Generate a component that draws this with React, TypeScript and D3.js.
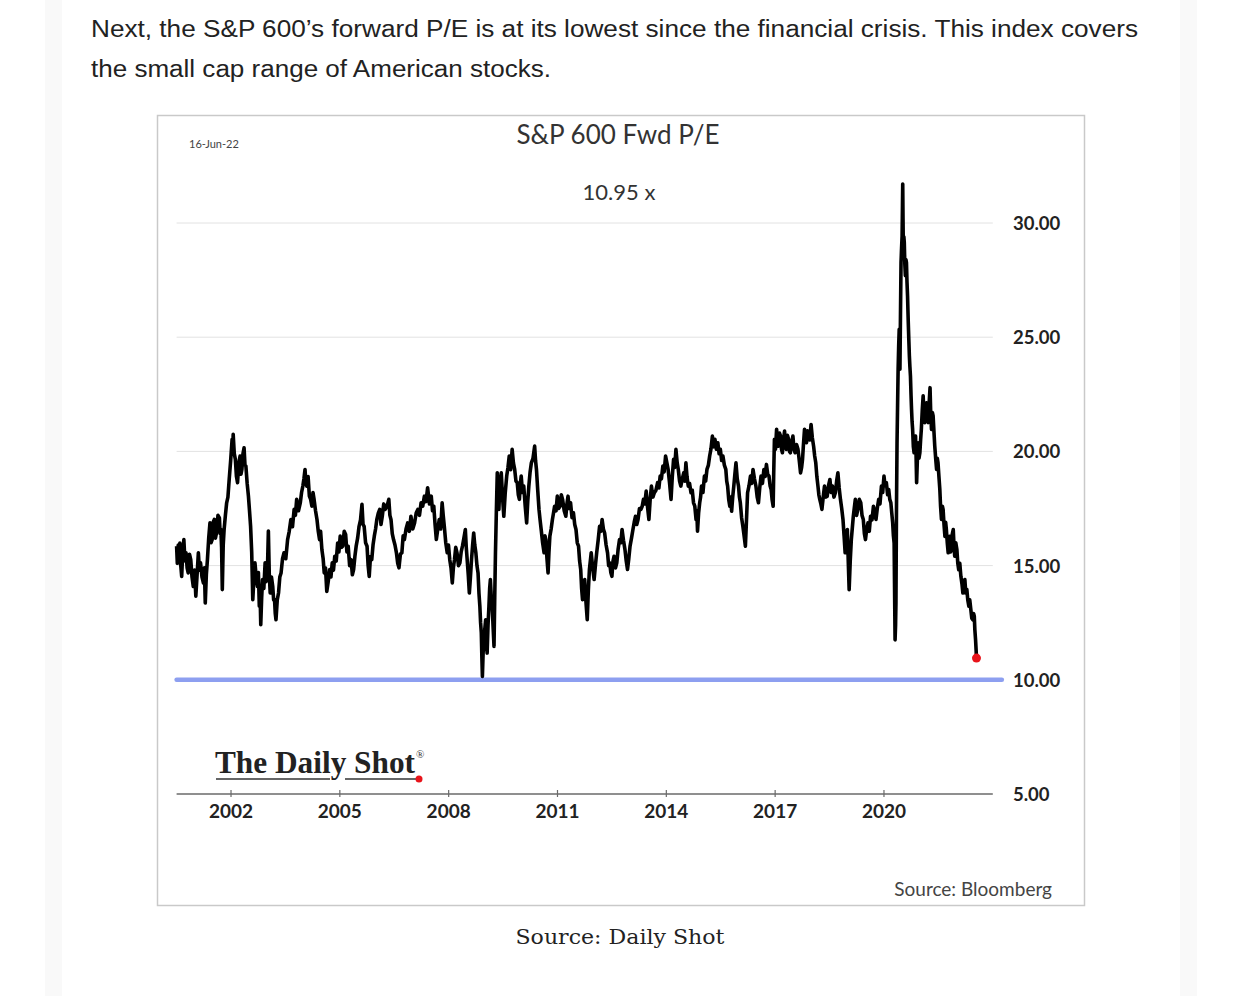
import React from 'react'
import * as d3 from 'd3'

// S&P 600 forward P/E as [decimal year, P/E]
const pe2000to2004: [number, number][] = [
    [2000.5, 15.85], [2000.52, 15.1], [2000.545, 15.9], [2000.57, 15.3], [2000.59, 15.99], [2000.615, 15.0],
    [2000.64, 14.53], [2000.67, 15.6], [2000.7, 16.14], [2000.73, 15.2], [2000.76, 15.56], [2000.79, 14.9],
    [2000.82, 14.68], [2000.855, 15.5], [2000.89, 15.26], [2000.925, 14.5], [2000.96, 14.09], [2000.995, 14.8],
    [2001.03, 13.66], [2001.065, 14.6], [2001.1, 15.56], [2001.13, 14.8], [2001.16, 15.12], [2001.2, 14.5],
    [2001.24, 14.24], [2001.265, 14.9], [2001.29, 13.36], [2001.32, 14.6], [2001.35, 15.26], [2001.385, 16.2],
    [2001.42, 16.87], [2001.45, 16.0], [2001.48, 16.14], [2001.51, 16.9], [2001.54, 17.02], [2001.57, 16.2],
    [2001.6, 16.43], [2001.64, 17.2], [2001.68, 17.09], [2001.7, 16.4], [2001.72, 16.58], [2001.74, 15.8],
    [2001.76, 13.95], [2001.785, 15.9], [2001.81, 16.58], [2001.845, 17.2], [2001.88, 17.75], [2001.915, 18.0],
    [2001.95, 18.77], [2001.99, 19.6], [2002.03, 20.53], [2002.045, 19.9], [2002.06, 20.75], [2002.09, 19.9],
    [2002.12, 19.65], [2002.15, 18.9], [2002.18, 18.63], [2002.215, 19.5], [2002.25, 19.8], [2002.275, 19.0],
    [2002.3, 19.21], [2002.33, 19.9], [2002.36, 20.16], [2002.385, 19.4], [2002.41, 19.36], [2002.445, 18.6],
    [2002.48, 18.04], [2002.51, 17.4], [2002.54, 16.72], [2002.57, 15.6], [2002.6, 13.51], [2002.63, 14.4],
    [2002.66, 15.12], [2002.695, 14.5], [2002.73, 14.09], [2002.755, 14.7], [2002.78, 13.22], [2002.8, 13.9],
    [2002.82, 12.41], [2002.845, 13.6], [2002.87, 14.39], [2002.905, 14.0], [2002.94, 15.12], [2002.965, 14.3],
    [2002.99, 14.53], [2003.01, 15.2], [2003.03, 16.51], [2003.055, 14.6], [2003.08, 13.8], [2003.115, 14.5],
    [2003.15, 14.09], [2003.175, 13.5], [2003.2, 13.51], [2003.22, 12.9], [2003.24, 12.63], [2003.275, 13.5],
    [2003.31, 13.8], [2003.345, 14.5], [2003.38, 14.68], [2003.42, 15.3], [2003.46, 15.56], [2003.51, 15.3],
    [2003.56, 16.14], [2003.605, 16.5], [2003.65, 17.02], [2003.695, 16.7], [2003.74, 17.46], [2003.775, 17.2],
    [2003.81, 17.9], [2003.86, 17.4], [2003.91, 17.75], [2003.945, 18.2], [2003.98, 18.48], [2004.01, 18.8],
    [2004.04, 19.21], [2004.065, 18.6], [2004.09, 18.48], [2004.125, 18.9], [2004.16, 18.04], [2004.195, 17.9],
    [2004.23, 17.6], [2004.26, 18.2], [2004.29, 17.9], [2004.33, 17.4], [2004.37, 17.02], [2004.405, 16.5],
    [2004.44, 16.14], [2004.47, 16.5], [2004.505, 15.7], [2004.54, 15.3], [2004.57, 14.68], [2004.605, 14.9],
    [2004.64, 13.87], [2004.68, 14.3], [2004.72, 14.83], [2004.755, 14.5], [2004.79, 15.12], [2004.825, 14.8],
    [2004.86, 15.41], [2004.9, 15.2], [2004.94, 15.99], [2004.975, 15.6],
]

const pe2005to2009: [number, number][] = [
    [2005.01, 16.29], [2005.045, 15.8], [2005.08, 15.85], [2005.12, 16.5], [2005.16, 16.36], [2005.195, 15.6],
    [2005.23, 15.85], [2005.27, 15.0], [2005.31, 15.26], [2005.345, 14.6], [2005.38, 14.83], [2005.415, 15.4],
    [2005.45, 15.85], [2005.49, 16.2], [2005.53, 16.72], [2005.57, 17.0], [2005.61, 17.68], [2005.64, 16.8],
    [2005.67, 16.72], [2005.71, 16.0], [2005.75, 15.85], [2005.78, 15.0], [2005.81, 14.53], [2005.845, 15.4],
    [2005.88, 15.26], [2005.915, 15.9], [2005.95, 16.29], [2005.985, 16.6], [2006.02, 17.02], [2006.06, 17.3],
    [2006.1, 17.46], [2006.135, 16.8], [2006.17, 17.16], [2006.21, 17.7], [2006.25, 17.46], [2006.3, 17.6],
    [2006.35, 17.9], [2006.38, 17.2], [2006.41, 17.02], [2006.445, 16.4], [2006.48, 16.14], [2006.52, 15.9],
    [2006.56, 15.56], [2006.595, 15.1], [2006.63, 14.9], [2006.67, 15.5], [2006.71, 15.56], [2006.745, 16.3],
    [2006.78, 16.14], [2006.825, 16.6], [2006.87, 16.87], [2006.915, 16.5], [2006.96, 17.16], [2007.01, 16.6],
    [2007.06, 16.87], [2007.105, 17.3], [2007.15, 17.46], [2007.195, 17.2], [2007.24, 17.75], [2007.285, 17.6],
    [2007.33, 18.04], [2007.375, 17.8], [2007.42, 18.41], [2007.47, 17.7], [2007.52, 18.04], [2007.555, 17.4],
    [2007.59, 17.6], [2007.625, 16.8], [2007.66, 16.14], [2007.7, 16.6], [2007.74, 17.02], [2007.78, 16.6],
    [2007.82, 17.75], [2007.85, 17.2], [2007.88, 16.72], [2007.92, 16.0], [2007.96, 15.56], [2007.995, 15.9],
    [2008.03, 15.26], [2008.065, 14.9], [2008.1, 14.24], [2008.13, 14.9], [2008.16, 15.26], [2008.195, 15.8],
    [2008.23, 15.56], [2008.27, 15.0], [2008.31, 15.12], [2008.345, 15.6], [2008.38, 15.85], [2008.42, 16.2],
    [2008.46, 16.58], [2008.485, 15.8], [2008.51, 15.26], [2008.54, 14.6], [2008.57, 13.8], [2008.6, 14.5],
    [2008.63, 15.26], [2008.66, 15.9], [2008.69, 16.43], [2008.72, 15.9], [2008.75, 15.56], [2008.78, 15.0],
    [2008.81, 14.68], [2008.835, 13.8], [2008.86, 13.22], [2008.88, 12.5], [2008.9, 12.05], [2008.915, 11.0],
    [2008.93, 10.15], [2008.95, 11.2], [2008.97, 11.46], [2008.995, 12.2], [2009.02, 12.63], [2009.04, 11.8],
    [2009.06, 11.17], [2009.085, 12.4], [2009.11, 13.22], [2009.13, 14.0], [2009.15, 14.39], [2009.175, 13.6],
    [2009.2, 13.22], [2009.225, 12.3], [2009.25, 11.46], [2009.27, 13.6], [2009.29, 15.56], [2009.315, 17.4],
    [2009.34, 19.06], [2009.365, 18.0], [2009.385, 17.46], [2009.41, 18.5],
]

const pe2009to2014: [number, number][] = [
    [2009.45, 19.06], [2009.485, 18.0], [2009.52, 17.16], [2009.56, 18.2], [2009.6, 18.92], [2009.635, 19.3],
    [2009.67, 19.8], [2009.71, 19.2], [2009.75, 20.09], [2009.785, 19.5], [2009.82, 19.21], [2009.855, 18.7],
    [2009.89, 18.63], [2009.92, 18.1], [2009.95, 17.9], [2009.975, 18.6], [2010.0, 18.92], [2010.035, 18.2],
    [2010.07, 18.48], [2010.11, 17.6], [2010.15, 16.87], [2010.18, 17.8], [2010.21, 18.48], [2010.245, 19.1],
    [2010.28, 19.5], [2010.325, 19.7], [2010.37, 20.23], [2010.395, 19.6], [2010.42, 19.21], [2010.455, 18.3],
    [2010.49, 17.46], [2010.52, 17.0], [2010.55, 16.58], [2010.59, 16.0], [2010.63, 15.56], [2010.655, 16.3],
    [2010.68, 16.14], [2010.71, 15.3], [2010.74, 14.68], [2010.765, 15.6], [2010.79, 16.29], [2010.825, 16.6],
    [2010.86, 17.02], [2010.89, 17.3], [2010.92, 17.6], [2010.96, 17.4], [2010.995, 18.04], [2011.03, 17.5],
    [2011.07, 17.6], [2011.105, 18.1], [2011.14, 17.9], [2011.185, 17.4], [2011.23, 17.16], [2011.26, 17.7],
    [2011.29, 18.04], [2011.325, 17.5], [2011.36, 17.75], [2011.4, 17.1], [2011.44, 17.31], [2011.475, 16.8],
    [2011.51, 16.58], [2011.545, 16.0], [2011.58, 15.85], [2011.61, 15.2], [2011.64, 14.83], [2011.665, 14.0],
    [2011.69, 13.51], [2011.72, 14.1], [2011.75, 14.39], [2011.785, 13.4], [2011.82, 12.63], [2011.85, 13.9],
    [2011.88, 14.83], [2011.905, 15.2], [2011.93, 15.56], [2011.97, 14.9], [2012.01, 14.39], [2012.045, 15.0],
    [2012.08, 15.56], [2012.12, 16.1], [2012.16, 16.72], [2012.195, 16.5], [2012.23, 17.02], [2012.265, 16.6],
    [2012.3, 16.43], [2012.34, 15.9], [2012.38, 15.56], [2012.41, 15.0], [2012.44, 15.12], [2012.47, 14.7],
    [2012.5, 14.53], [2012.53, 15.2], [2012.56, 15.41], [2012.6, 14.9], [2012.635, 15.12], [2012.67, 15.7],
    [2012.71, 16.14], [2012.745, 16.0], [2012.78, 16.58], [2012.82, 16.1], [2012.86, 15.7], [2012.895, 15.2],
    [2012.93, 14.83], [2012.965, 15.3], [2013.0, 15.85], [2013.04, 16.2], [2013.08, 16.58], [2013.115, 16.9],
    [2013.15, 17.16], [2013.185, 16.8], [2013.22, 17.02], [2013.26, 17.5], [2013.3, 17.46], [2013.335, 17.6],
    [2013.37, 17.9], [2013.405, 17.7], [2013.445, 18.26], [2013.48, 17.6], [2013.52, 17.02], [2013.555, 17.9],
    [2013.59, 18.48], [2013.63, 18.0], [2013.67, 18.19], [2013.715, 18.3], [2013.76, 18.63], [2013.795, 18.4],
    [2013.83, 18.92], [2013.865, 18.8], [2013.905, 19.36], [2013.94, 19.1], [2013.98, 19.8],
]

const pe2014to2019: [number, number][] = [
    [2014.05, 19.21], [2014.09, 18.6], [2014.13, 17.9], [2014.165, 18.9], [2014.2, 19.65], [2014.23, 19.3],
    [2014.265, 20.09], [2014.3, 19.5], [2014.33, 19.21], [2014.365, 18.7], [2014.4, 18.48], [2014.44, 18.8],
    [2014.48, 19.06], [2014.51, 18.7], [2014.54, 19.5], [2014.57, 18.9], [2014.605, 18.48], [2014.64, 18.6],
    [2014.68, 18.19], [2014.715, 18.3], [2014.75, 17.75], [2014.785, 17.6], [2014.82, 17.02], [2014.84, 17.4],
    [2014.86, 16.51], [2014.89, 17.3], [2014.92, 17.75], [2014.945, 18.0], [2014.97, 18.48], [2015.01, 18.2],
    [2015.05, 18.92], [2015.085, 18.7], [2015.12, 19.21], [2015.16, 19.4], [2015.195, 19.8], [2015.23, 20.1],
    [2015.27, 20.67], [2015.305, 20.2], [2015.34, 20.53], [2015.38, 20.1], [2015.42, 20.38], [2015.455, 19.9],
    [2015.49, 20.09], [2015.525, 19.6], [2015.56, 19.8], [2015.6, 19.4], [2015.64, 19.21], [2015.665, 18.7],
    [2015.69, 18.48], [2015.72, 17.9], [2015.75, 17.6], [2015.775, 18.0], [2015.8, 17.38], [2015.83, 18.0],
    [2015.86, 18.48], [2015.89, 19.0], [2015.92, 19.5], [2015.955, 18.8], [2015.99, 18.48], [2016.015, 18.0],
    [2016.04, 17.75], [2016.075, 17.1], [2016.11, 16.72], [2016.145, 16.3], [2016.18, 15.85], [2016.21, 17.0],
    [2016.24, 18.19], [2016.28, 18.5], [2016.32, 18.92], [2016.355, 18.6], [2016.39, 19.21], [2016.43, 18.8],
    [2016.47, 18.48], [2016.505, 18.0], [2016.54, 17.75], [2016.575, 18.4], [2016.61, 18.92], [2016.65, 18.6],
    [2016.69, 19.21], [2016.725, 18.9], [2016.76, 19.43], [2016.795, 19.0], [2016.83, 18.92], [2016.86, 18.5],
    [2016.89, 18.33], [2016.915, 17.9], [2016.945, 17.6], [2016.96, 19.0], [2016.98, 20.53], [2017.01, 20.1],
    [2017.04, 20.97], [2017.065, 20.4], [2017.09, 20.23], [2017.12, 20.8], [2017.15, 20.67], [2017.175, 20.1],
    [2017.2, 19.94], [2017.23, 20.5], [2017.26, 20.89], [2017.285, 20.2], [2017.31, 20.09], [2017.34, 20.7],
    [2017.37, 20.53], [2017.395, 20.0], [2017.42, 19.94], [2017.455, 20.4], [2017.49, 20.67], [2017.52, 20.1],
    [2017.55, 19.94], [2017.59, 20.3], [2017.63, 20.09], [2017.665, 19.6], [2017.7, 19.06], [2017.73, 19.3],
    [2017.755, 19.65], [2017.78, 20.3], [2017.81, 20.97], [2017.84, 20.5], [2017.865, 20.38], [2017.89, 20.9],
    [2017.92, 20.82], [2017.955, 20.5], [2017.99, 21.18], [2018.025, 20.6], [2018.06, 20.23], [2018.09, 19.8],
    [2018.12, 19.5], [2018.15, 18.9], [2018.18, 18.48], [2018.205, 18.1], [2018.23, 17.9], [2018.26, 17.7],
    [2018.29, 17.46], [2018.325, 18.0], [2018.36, 18.48], [2018.4, 18.0], [2018.435, 18.04], [2018.47, 18.5],
    [2018.51, 18.77], [2018.545, 18.2], [2018.58, 18.48], [2018.62, 18.0], [2018.66, 18.19], [2018.695, 18.7],
    [2018.73, 19.06], [2018.765, 18.4], [2018.8, 17.9], [2018.835, 17.5], [2018.87, 17.02], [2018.9, 16.3],
    [2018.93, 15.56], [2018.96, 16.2], [2018.99, 16.58], [2019.015, 15.2], [2019.04, 13.95], [2019.07, 15.2],
    [2019.1, 16.14], [2019.13, 16.7], [2019.155, 17.16], [2019.18, 17.5], [2019.21, 17.9], [2019.245, 17.2],
    [2019.28, 17.46], [2019.32, 17.9], [2019.36, 17.75], [2019.395, 17.2], [2019.43, 17.02], [2019.46, 16.4],
    [2019.49, 16.14], [2019.525, 16.6], [2019.56, 16.87], [2019.595, 16.5], [2019.63, 17.16], [2019.67, 17.0],
    [2019.71, 17.6], [2019.745, 17.3], [2019.78, 17.02], [2019.815, 17.5], [2019.855, 17.9], [2019.89, 17.7],
    [2019.93, 18.48], [2019.965, 18.2], [2020.0, 18.92],
]

const pe2020to2022: [number, number][] = [
    [2020.03, 18.5], [2020.066, 18.63], [2020.1, 18.1], [2020.13, 18.33], [2020.16, 17.9], [2020.19, 17.75],
    [2020.215, 17.3], [2020.24, 16.87], [2020.26, 16.3], [2020.28, 15.99], [2020.295, 13.5], [2020.306, 11.75],
    [2020.32, 12.4], [2020.33, 13.36], [2020.345, 17.5], [2020.36, 20.38], [2020.375, 22.0], [2020.39, 23.6],
    [2020.405, 24.6], [2020.42, 25.35], [2020.43, 24.4], [2020.44, 23.6], [2020.455, 26.0], [2020.47, 28.27],
    [2020.485, 28.9], [2020.5, 29.44], [2020.51, 30.8], [2020.517, 31.71], [2020.525, 30.2], [2020.535, 28.71],
    [2020.548, 29.4], [2020.56, 29.15], [2020.575, 28.2], [2020.59, 27.69], [2020.605, 28.4], [2020.62, 28.27],
    [2020.635, 27.4], [2020.65, 26.81], [2020.66, 26.2], [2020.67, 25.64], [2020.685, 24.9], [2020.7, 24.18],
    [2020.715, 23.7], [2020.73, 23.3], [2020.745, 22.5], [2020.76, 21.84], [2020.775, 21.3], [2020.79, 20.96],
    [2020.81, 20.2], [2020.83, 19.94], [2020.85, 20.5], [2020.87, 20.67], [2020.885, 19.8], [2020.9, 18.63],
    [2020.92, 19.6], [2020.94, 20.38], [2020.965, 19.7], [2020.99, 19.94], [2021.01, 20.5], [2021.03, 20.96],
    [2021.055, 21.8], [2021.08, 22.43], [2021.1, 21.7], [2021.125, 21.26], [2021.15, 21.9], [2021.17, 22.13],
    [2021.195, 21.4], [2021.22, 21.26], [2021.245, 22.1], [2021.27, 22.79], [2021.29, 21.6], [2021.31, 20.96],
    [2021.335, 21.7], [2021.355, 21.55], [2021.38, 20.8], [2021.4, 20.23], [2021.425, 19.7], [2021.45, 19.21],
    [2021.47, 19.7], [2021.49, 19.5], [2021.515, 18.9], [2021.54, 18.33], [2021.56, 17.6], [2021.585, 17.02],
    [2021.61, 17.6], [2021.63, 17.46], [2021.655, 16.8], [2021.68, 16.28], [2021.7, 16.9], [2021.72, 16.58],
    [2021.745, 16.0], [2021.77, 15.56], [2021.79, 16.1], [2021.815, 16.28], [2021.84, 15.6], [2021.86, 15.85],
    [2021.885, 16.4], [2021.91, 16.58], [2021.93, 15.9], [2021.95, 15.41], [2021.98, 16.0], [2022.01, 15.7],
    [2022.035, 15.1], [2022.06, 14.82], [2022.09, 15.1], [2022.12, 14.53], [2022.15, 14.2], [2022.175, 13.8],
    [2022.2, 14.2], [2022.23, 14.39], [2022.255, 13.8], [2022.285, 13.95], [2022.31, 13.5], [2022.34, 13.22],
    [2022.365, 13.5], [2022.395, 13.07], [2022.42, 12.7], [2022.45, 12.63], [2022.47, 12.9], [2022.49, 12.78],
    [2022.505, 12.2], [2022.525, 11.75], [2022.54, 11.3], [2022.55, 10.95],
]

const peSeries = [...pe2000to2004, ...pe2005to2009, ...pe2009to2014, ...pe2014to2019, ...pe2020to2022]

const yTickValues = [5, 10, 15, 20, 25, 30]
const gridValues = [15, 20, 25, 30]
const xTickYears = [2002, 2005, 2008, 2011, 2014, 2017, 2020]
const floorValue = 10
const floorEndYear = 2023.25
const lastValue = 10.95
const lastYear = 2022.55

const introLines = [
    'Next, the S\u0026P 600\u2019s forward P/E is at its lowest since the financial crisis. This index covers',
    'the small cap range of American stocks.',
]

export default function App() {
    const x = d3.scaleLinear().domain([2000.5, 2023]).range([176.6, 992.8])
    const y = d3.scaleLinear().domain([5, 30]).range([794, 223])

    const line = d3
        .line<[number, number]>()
        .x((d) => x(d[0]))
        .y((d) => y(d[1]))

    const [x0, x1] = x.range()
    const axisFont = 'Lato, "Open Sans", sans-serif'

    return (
        <div style={{ position: 'absolute', left: 0, top: 0 }}>
            <svg width={1242} height={996} style={{ display: 'block' }}>
                <rect x={0} y={0} width={1242} height={996} fill="#fff" />
                {/* faint page column edges */}
                <rect x={45} y={0} width={17} height={996} fill="#f9f9f9" />
                <rect x={1180} y={0} width={17} height={996} fill="#f9f9f9" />

                {introLines.map((t, i) => (
                    <text
                        key={i}
                        x={91}
                        y={37 + i * 40}
                        fontFamily='"Liberation Sans", Arial, sans-serif'
                        fontSize={23}
                        fill="#222"
                        textLength={i === 0 ? 1047 : 460}
                        lengthAdjust="spacingAndGlyphs"
                    >
                        {t}
                    </text>
                ))}

                {/* chart frame */}
                <rect x={157.5} y={115.5} width={927} height={790} fill="#fff" stroke="#c9c9c9" strokeWidth={1.5} />

                <text x={189} y={148} fontFamily={axisFont} fontSize={11} fill="#444">
                    16-Jun-22
                </text>
                <text x={618} y={144} textAnchor="middle" fontFamily={axisFont} fontSize={26} fill="#333">
                    S&amp;P 600 Fwd P/E
                </text>
                <text x={619} y={200} textAnchor="middle" fontFamily={axisFont} fontSize={22} fill="#333">
                    10.95 x
                </text>

                {/* grid */}
                {gridValues.map((v) => (
                    <line key={v} x1={x0} x2={x1} y1={y(v)} y2={y(v)} stroke="#e2e2e2" strokeWidth={1} />
                ))}

                {/* y labels */}
                {yTickValues.map((v) => (
                    <text
                        key={v}
                        x={1013}
                        y={y(v) + 7}
                        fontFamily={axisFont}
                        fontWeight="bold"
                        fontSize={18.5}
                        fill="#222"
                    >
                        {v.toFixed(2)}
                    </text>
                ))}

                {/* x axis */}
                <line x1={x0} x2={x1} y1={y(5)} y2={y(5)} stroke="#6a6a6a" strokeWidth={1.5} />
                {xTickYears.map((yr) => (
                    <g key={yr}>
                        <line x1={x(yr)} x2={x(yr)} y1={y(5) - 4} y2={y(5) + 3} stroke="#6a6a6a" strokeWidth={1.2} />
                        <text
                            x={x(yr)}
                            y={y(5) + 24}
                            textAnchor="middle"
                            fontFamily={axisFont}
                            fontWeight="bold"
                            fontSize={19}
                            fill="#222"
                        >
                            {yr}
                        </text>
                    </g>
                ))}

                {/* floor line */}
                <line
                    x1={x(2000.5)}
                    x2={x(floorEndYear)}
                    y1={y(floorValue)}
                    y2={y(floorValue)}
                    stroke="#8d9ff0"
                    strokeWidth={4.5}
                    strokeLinecap="round"
                />

                {/* series */}
                <path
                    d={line(peSeries) ?? ''}
                    fill="none"
                    stroke="#000"
                    strokeWidth={3.6}
                    strokeLinejoin="round"
                />
                <circle cx={x(lastYear)} cy={y(lastValue)} r={4.5} fill="#e8141b" />

                {/* logo */}
                <text
                    x={215}
                    y={773}
                    fontFamily='"Liberation Serif", "Times New Roman", serif'
                    fontSize={31}
                    fontWeight="bold"
                    fill="#222"
                    textLength={200}
                    lengthAdjust="spacingAndGlyphs"
                >
                    The Daily Shot
                </text>
                <text x={416} y={758} fontFamily='"Liberation Serif", serif' fontSize={11} fill="#333">
                    ®
                </text>
                <line x1={216} x2={330} y1={779} y2={779} stroke="#333" strokeWidth={1.6} />
                <line x1={345} x2={417} y1={779} y2={779} stroke="#333" strokeWidth={1.6} />
                <circle cx={419} cy={779} r={3.5} fill="#e8141b" />

                <text x={1052} y={896} textAnchor="end" fontFamily={axisFont} fontSize={19} fill="#444">
                    Source: Bloomberg
                </text>

                <text
                    x={620}
                    y={944}
                    textAnchor="middle"
                    fontFamily='"DejaVu Serif", Georgia, serif'
                    fontSize={20}
                    fill="#222"
                    textLength={209}
                    lengthAdjust="spacingAndGlyphs"
                >
                    Source: Daily Shot
                </text>
            </svg>
        </div>
    )
}
